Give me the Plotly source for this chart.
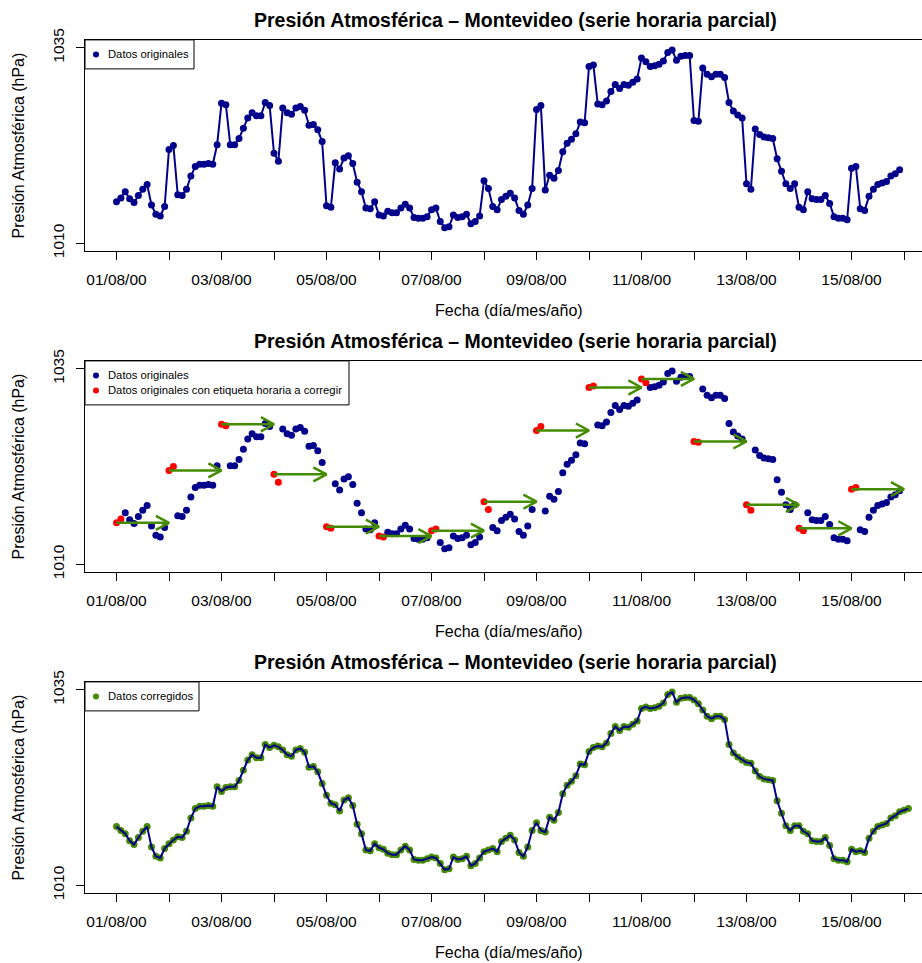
import pandas as pd
import plotly.graph_objects as go
from plotly.subplots import make_subplots

# Serie corregida: presión (hPa) cada 2 horas desde 01/08/2000 00:00
inicio = pd.Timestamp("2000-08-01 00:00")
paso = pd.Timedelta(hours=2)
presion_corregida = [
    1017.5, 1017.0, 1016.6, 1015.7, 1015.2, 1016.1, 1016.9, 1017.5, 1014.9, 1013.7, 1013.5, 1014.7,
    1015.3, 1015.8, 1016.2, 1016.1, 1016.9, 1018.6, 1019.8, 1020.1, 1020.1, 1020.2, 1020.1, 1022.6,
    1022.0, 1022.5, 1022.6, 1022.6, 1023.4, 1024.7, 1026.0, 1026.7, 1026.3, 1026.3, 1028.0, 1027.6,
    1027.9, 1027.7, 1027.3, 1026.7, 1026.5, 1027.3, 1027.5, 1027.0, 1025.1, 1025.2, 1024.5, 1023.0,
    1021.5, 1020.5, 1020.3, 1019.5, 1020.9, 1021.2, 1020.2, 1017.8, 1016.6, 1014.5, 1014.4, 1015.3,
    1014.8, 1014.6, 1014.1, 1013.9, 1013.9, 1014.5, 1015.0, 1014.5, 1013.3, 1013.2, 1013.2, 1013.4,
    1013.6, 1013.5, 1012.8, 1012.0, 1012.1, 1013.6, 1013.3, 1013.4, 1013.7, 1012.5, 1012.8, 1013.5,
    1014.3, 1014.5, 1014.7, 1014.3, 1015.6, 1016.0, 1016.4, 1015.8, 1014.2, 1013.7, 1014.9, 1017.0,
    1018.0, 1017.0, 1016.8, 1018.7, 1018.3, 1019.3, 1021.7, 1022.8, 1023.3, 1024.0, 1025.5, 1025.4,
    1027.1, 1027.6, 1027.8, 1027.7, 1028.2, 1029.4, 1030.3, 1029.8, 1030.3, 1030.2, 1030.6, 1031.0,
    1032.6, 1032.8, 1032.6, 1032.7, 1032.9, 1033.3, 1034.4, 1034.7, 1033.4, 1033.9, 1034.0, 1034.0,
    1033.7, 1033.2, 1032.4, 1031.6, 1031.3, 1031.6, 1031.6, 1031.2, 1028.0, 1026.9, 1026.4, 1026.0,
    1025.7, 1025.6, 1024.6, 1023.9, 1023.6, 1023.5, 1023.4, 1020.8, 1019.2, 1017.6, 1017.0, 1017.6,
    1017.6, 1016.9, 1016.6, 1015.7, 1015.6, 1015.6, 1016.1, 1015.1, 1013.4, 1013.2, 1013.2, 1013.0,
    1014.6, 1014.3, 1014.4, 1014.2, 1016.0, 1016.9, 1017.5, 1017.7, 1017.9, 1018.6, 1018.9, 1019.4,
    1019.6, 1019.8,
]
# horas del día cuya observación quedó con la fecha del día anterior
horas_mal_etiquetadas = [0, 2]
n_original = 180  # datos originales: 01/08 00:00 a 15/08 22:00

titulo = "Presión Atmosférica – Montevideo (serie horaria parcial)"
titulo_x = "Fecha (día/mes/año)"
titulo_y = "Presión Atmosférica (hPa)"
ticks_y = [1010, 1035]
dias = pd.date_range("2000-08-01", "2000-08-16", freq="D")
etiquetas_dias = [d.strftime("%d/%m/%y") if i % 2 == 0 else "" for i, d in enumerate(dias)]

AZUL = "#00008B"
ROJO = "#FF0000"
VERDE = "#458B00"
FUENTE = "Liberation Sans, Arial, sans-serif"

# ---- series ----
fechas_corr = [inicio + i * paso for i in range(len(presion_corregida))]
fechas_orig, valores_orig, es_rojo = [], [], []
for i in range(n_original):
    t = fechas_corr[i]
    if t.hour in horas_mal_etiquetadas:
        valores_orig.append(presion_corregida[i + 12])
        es_rojo.append(True)
    else:
        valores_orig.append(presion_corregida[i])
        es_rojo.append(False)
    fechas_orig.append(t)

azul_x = [t for t, r in zip(fechas_orig, es_rojo) if not r]
azul_y = [v for v, r in zip(valores_orig, es_rojo) if not r]
rojo_x = [t for t, r in zip(fechas_orig, es_rojo) if r]
rojo_y = [v for v, r in zip(valores_orig, es_rojo) if r]

# flechas: de la etiqueta errónea a la hora corregida (+1 día)
PUNTA_T = pd.Timedelta(hours=6)
PUNTA_V = 0.9
fx, fy = [], []
for t, v in zip(rojo_x, rojo_y):
    if t.hour != 0:
        continue
    tip = t + pd.Timedelta(days=1)
    fx += [t, tip, None, tip - PUNTA_T, tip, tip - PUNTA_T, None]
    fy += [v, v, None, v + PUNTA_V, v, v - PUNTA_V, None]

# ---- figura ----
W, H = 922, 963
fig = make_subplots(rows=3, cols=1)

fig.add_trace(go.Scatter(x=fechas_orig, y=valores_orig, mode="lines+markers",
                         line=dict(color=AZUL, width=2), marker=dict(color=AZUL, size=7)),
              row=1, col=1)
fig.add_trace(go.Scatter(x=azul_x, y=azul_y, mode="markers",
                         marker=dict(color=AZUL, size=7)), row=2, col=1)
fig.add_trace(go.Scatter(x=rojo_x, y=rojo_y, mode="markers",
                         marker=dict(color=ROJO, size=7)), row=2, col=1)
fig.add_trace(go.Scatter(x=fx, y=fy, mode="lines",
                         line=dict(color=VERDE, width=2.5)), row=2, col=1)
fig.add_trace(go.Scatter(x=fechas_corr, y=presion_corregida, mode="markers",
                         marker=dict(color=VERDE, size=7)), row=3, col=1)
fig.add_trace(go.Scatter(x=fechas_corr, y=presion_corregida, mode="lines",
                         line=dict(color=AZUL, width=2)), row=3, col=1)

px_dia = 52.5
x0_px, x_tick0 = 85, 116.5
rango_x = [inicio - pd.Timedelta(days=(x_tick0 - x0_px) / px_dia),
           inicio + pd.Timedelta(days=(W - x_tick0) / px_dia)]

tops = [39.9, 360.9, 681.9]
alto = 211.2
leyendas = [
    [("Datos originales", AZUL)],
    [("Datos originales", AZUL), ("Datos originales con etiqueta horaria a corregir", ROJO)],
    [("Datos corregidos", VERDE)],
]
anchos_leyenda = [109, 264, 114]


def py(p):
    return 1 - p / H


shapes, annots = [], []
for k, top in enumerate(tops):
    n = k + 1
    fig.update_xaxes(row=n, col=1, domain=[x0_px / W, 1], type="date", range=rango_x,
                     tickmode="array", tickvals=dias, ticktext=etiquetas_dias,
                     ticks="outside", ticklen=8, tickcolor="black", tickwidth=1,
                     showline=True, mirror=True, linecolor="black", linewidth=1,
                     showgrid=False, zeroline=False, ticklabelstandoff=6, automargin=False,
                     tickfont=dict(family=FUENTE, size=15.5, color="black"))
    fig.update_yaxes(row=n, col=1, domain=[py(top + alto), py(top)],
                     range=[1009, 1036], tickmode="array", tickvals=ticks_y,
                     ticks="outside", ticklen=8, tickcolor="black", tickwidth=1,
                     tickangle=-90, showline=True, mirror=False, linecolor="black",
                     linewidth=1, showgrid=False, zeroline=False, ticklabelstandoff=6,
                     automargin=False,
                     tickfont=dict(family=FUENTE, size=15.5, color="black"))
    annots.append(dict(text=f"<b>{titulo}</b>", x=515 / W, y=py(top - 20),
                       xref="paper", yref="paper", showarrow=False,
                       xanchor="center", yanchor="middle",
                       font=dict(family=FUENTE, size=19.5, color="black")))
    annots.append(dict(text=titulo_x, x=509 / W, y=py(top + 271),
                       xref="paper", yref="paper", showarrow=False,
                       xanchor="center", yanchor="middle",
                       font=dict(family=FUENTE, size=16, color="black")))
    annots.append(dict(text=titulo_y, x=18 / W, y=py(top + alto / 2), textangle=-90,
                       xref="paper", yref="paper", showarrow=False,
                       xanchor="center", yanchor="middle",
                       font=dict(family=FUENTE, size=16, color="black")))
    # leyenda al estilo R
    items = leyendas[k]
    alto_ley = 14 + 15 * len(items)
    shapes.append(dict(type="rect", xref="paper", yref="paper",
                       x0=x0_px / W, x1=(x0_px + anchos_leyenda[k]) / W,
                       y0=py(top + alto_ley), y1=py(top),
                       line=dict(color="black", width=1), fillcolor="white", layer="above"))
    for j, (txt, col) in enumerate(items):
        yc = py(top + 14.5 + 15 * j)
        shapes.append(dict(type="circle", xref="paper", yref="paper",
                           xsizemode="pixel", ysizemode="pixel",
                           xanchor=(x0_px + 11) / W, yanchor=yc,
                           x0=-3, x1=3, y0=-3, y1=3,
                           fillcolor=col, line=dict(color=col, width=0), layer="above"))
        annots.append(dict(text=txt, x=(x0_px + 21) / W, y=yc, xref="paper", yref="paper",
                           xanchor="left", yanchor="middle", showarrow=False,
                           font=dict(family=FUENTE, size=11.25, color="black")))

fig.update_layout(width=W, height=H, margin=dict(l=0, r=0, t=0, b=0, pad=0),
                  paper_bgcolor="white", plot_bgcolor="white", showlegend=False,
                  shapes=shapes, annotations=annots)

fig.write_html("out.html", config={"displayModeBar": False},
               post_script="document.body.style.margin='0';document.body.style.overflow='hidden';")
